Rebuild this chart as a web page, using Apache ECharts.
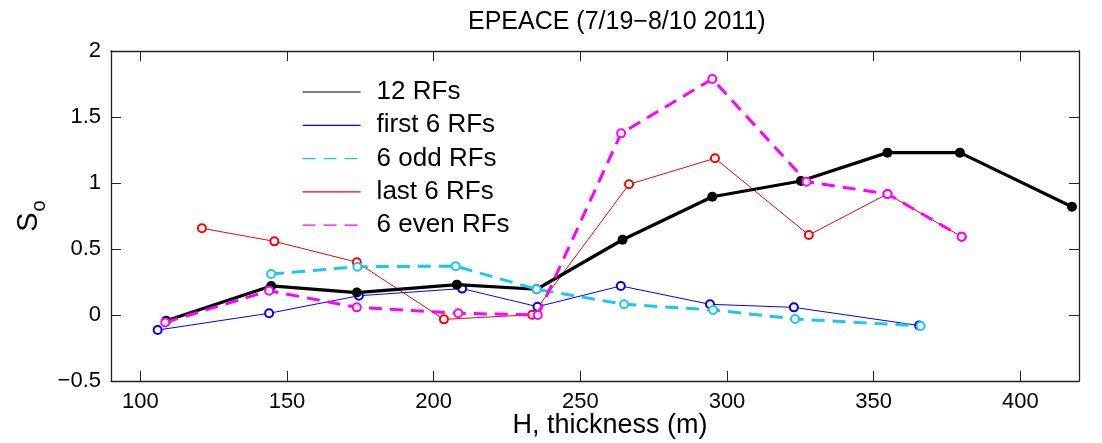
<!DOCTYPE html>
<html>
<head>
<meta charset="utf-8">
<script src="https://cdn.jsdelivr.net/npm/echarts@6/dist/echarts.min.js"></script>
<style>
html,body{margin:0;padding:0;background:#fff;}
#chart{width:1102px;height:443px;}
</style>
</head>
<body>
<div id="chart"></div>
<script>
// ---- data ----
const seriesNames = ['12 RFs', 'first 6 RFs', '6 odd RFs', 'last 6 RFs', '6 even RFs'];

const allX = [108.8, 144.6, 173.8, 207.9, 235.1, 264.4, 295.0, 325.2, 354.7, 379.4, 417.6];
const allY = [-0.043, 0.22, 0.17, 0.23, 0.195, 0.57, 0.896, 1.015, 1.23, 1.23, 0.82];

const firstX = [105.9, 143.9, 174.5, 209.7, 235.4, 263.8, 294.2, 322.8, 365.5];
const firstY = [-0.114, 0.013, 0.146, 0.20, 0.063, 0.22, 0.081, 0.058, -0.08];

const oddX = [144.6, 174.0, 207.5, 235.1, 264.9, 295.3, 323.2, 366.0];
const oddY = [0.31, 0.366, 0.37, 0.195, 0.081, 0.038, -0.03, -0.083];

const lastX = [121.0, 145.7, 173.8, 203.5, 233.6, 266.6, 295.9, 327.9, 354.7, 380.0];
const lastY = [0.657, 0.558, 0.40, -0.033, 0.002, 0.99, 1.187, 0.606, 0.917, 0.593];

const evenX = [108.5, 143.9, 173.8, 208.4, 235.5, 263.9, 295.0, 327.1, 354.7, 380.0];
const evenY = [-0.056, 0.184, 0.058, 0.013, 0.0, 1.376, 1.788, 1.01, 0.917, 0.593];

const xTicks = [100, 150, 200, 250, 300, 350, 400];

const titleText = 'EPEACE (7/19\u22128/10 2011)';
const xName = 'H, thickness (m)';

function pairs(xs, ys) { return xs.map((x, i) => [x, ys[i]]); }

const FONT = '"Liberation Sans", Arial, Helvetica, sans-serif';
const AX = '#222';

function fmtY(v) { return v < 0 ? '\u2212' + Math.abs(v) : String(v); }

const chart = echarts.init(document.getElementById('chart'), null, {renderer: 'canvas'});

const option = {
  animation: false,
  backgroundColor: '#fff',
  textStyle: {fontFamily: FONT},
  title: {
    text: titleText,
    left: 468, top: 10,
    padding: 0,
    textStyle: {fontFamily: FONT, fontSize: 25, fontWeight: 'normal', color: '#000'}
  },
  legend: {
    orient: 'vertical',
    left: 302, top: 79,
    padding: 0,
    itemGap: 7.3,
    itemWidth: 58,
    itemHeight: 22,
    data: seriesNames,
    itemStyle: {opacity: 0},
    lineStyle: {width: 1.2},
    textStyle: {fontFamily: FONT, fontSize: 26, color: '#000', lineHeight: 22, padding: [0, 0, 0, 11]}
  },
  grid: {left: 111, right: 23, top: 51, bottom: 62, containLabel: false, outerBoundsMode: 'none'},
  xAxis: [{
    type: 'value', min: 90, max: 420,
    position: 'bottom',
    name: xName, nameLocation: 'middle', nameGap: 31, nameMoveOverlap: false,
    nameTextStyle: {fontFamily: FONT, fontSize: 27, color: '#000', padding: [0, 0, 0, 30]},
    axisLine: {show: true, onZero: false, lineStyle: {color: AX, width: 1.3}},
    axisTick: {show: true, inside: true, length: 10, customValues: xTicks, lineStyle: {color: AX, width: 1}},
    axisLabel: {show: true, customValues: xTicks, margin: 10, fontFamily: FONT, fontSize: 22, color: '#000'},
    splitLine: {show: false}
  }, {
    type: 'value', min: 90, max: 420,
    position: 'top',
    axisLine: {show: true, onZero: false, lineStyle: {color: AX, width: 1.3}},
    axisTick: {show: true, inside: true, length: 10, customValues: xTicks, lineStyle: {color: AX, width: 1}},
    axisLabel: {show: false},
    splitLine: {show: false}
  }],
  yAxis: [{
    type: 'value', min: -0.5, max: 2, interval: 0.5,
    position: 'left',
    name: '{s|S}{o|o}', nameLocation: 'middle', nameGap: 68, nameRotate: 90, nameMoveOverlap: false,
    nameTextStyle: {
      fontFamily: FONT, color: '#000',
      rich: {
        s: {fontFamily: FONT, fontSize: 29, color: '#000', verticalAlign: 'bottom'},
        o: {fontFamily: FONT, fontSize: 20, color: '#000', padding: [0, 0, -22, 1]}
      }
    },
    axisLine: {show: true, onZero: false, lineStyle: {color: AX, width: 1.3}},
    axisTick: {show: true, inside: true, length: 10, lineStyle: {color: AX, width: 1}},
    axisLabel: {show: true, margin: 10, fontFamily: FONT, fontSize: 22, color: '#000', formatter: fmtY},
    splitLine: {show: false}
  }, {
    type: 'value', min: -0.5, max: 2, interval: 0.5,
    position: 'right',
    axisLine: {show: true, onZero: false, lineStyle: {color: AX, width: 1.3}},
    axisTick: {show: true, inside: true, length: 10, lineStyle: {color: AX, width: 1}},
    axisLabel: {show: false},
    splitLine: {show: false}
  }],
  series: [
    {
      name: seriesNames[0], type: 'line', data: pairs(allX, allY),
      symbol: 'circle', symbolSize: 10,
      lineStyle: {color: '#000', width: 3.2},
      itemStyle: {color: '#000', borderColor: '#000', borderWidth: 0},
      z: 3
    },
    {
      name: seriesNames[1], type: 'line', data: pairs(firstX, firstY),
      symbol: 'emptyCircle', symbolSize: 8,
      lineStyle: {color: '#0000ff', width: 1},
      itemStyle: {color: '#0000ff', borderColor: '#0000ff', borderWidth: 1},
      z: 2
    },
    {
      name: seriesNames[2], type: 'line', data: pairs(oddX, oddY),
      symbol: 'emptyCircle', symbolSize: 8,
      lineStyle: {color: '#1cc6f2', width: 3, type: [13, 8]},
      itemStyle: {color: '#1cc6f2', borderColor: '#1cc6f2', borderWidth: 2.5},
      z: 4
    },
    {
      name: seriesNames[3], type: 'line', data: pairs(lastX, lastY),
      symbol: 'emptyCircle', symbolSize: 8,
      lineStyle: {color: '#ff0000', width: 1},
      itemStyle: {color: '#ff0000', borderColor: '#ff0000', borderWidth: 1},
      z: 2
    },
    {
      name: seriesNames[4], type: 'line', data: pairs(evenX, evenY),
      symbol: 'emptyCircle', symbolSize: 8,
      lineStyle: {color: '#ff00ff', width: 3, type: [13, 8]},
      itemStyle: {color: '#ff00ff', borderColor: '#ff00ff', borderWidth: 2.5},
      z: 4
    }
  ]
};
chart.setOption(option);
</script>
</body>
</html>
